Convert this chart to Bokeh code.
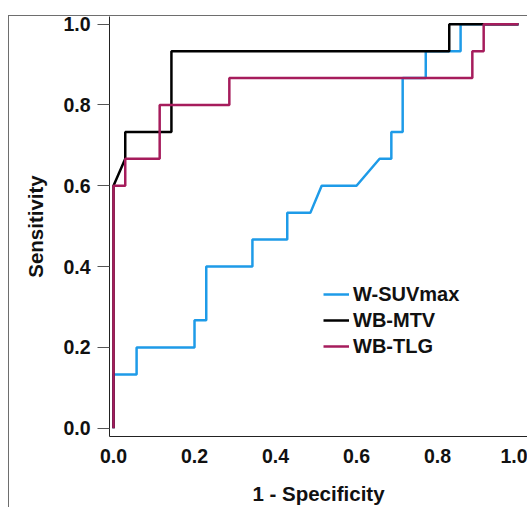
from bokeh.plotting import figure
from bokeh.models import Range1d, Legend, LegendItem, FixedTicker, NumeralTickFormatter
from bokeh.embed import file_html
from bokeh.resources import INLINE

# ROC curve data (1 - specificity, sensitivity)
suv_fpr = [0.0, 0.0, 0.057, 0.057, 0.2, 0.2, 0.229, 0.229, 0.343, 0.343, 0.429, 0.429,
           0.486, 0.514, 0.6, 0.657, 0.686, 0.686, 0.714, 0.714, 0.771, 0.771, 0.857, 0.857, 1.0]
suv_tpr = [0.0, 0.133, 0.133, 0.2, 0.2, 0.267, 0.267, 0.4, 0.4, 0.467, 0.467, 0.533,
           0.533, 0.6, 0.6, 0.667, 0.667, 0.733, 0.733, 0.867, 0.867, 0.933, 0.933, 1.0, 1.0]

mtv_fpr = [0.0, 0.0, 0.029, 0.029, 0.143, 0.143, 0.829, 0.829, 1.0]
mtv_tpr = [0.0, 0.6, 0.667, 0.733, 0.733, 0.933, 0.933, 1.0, 1.0]

tlg_fpr = [0.0, 0.0, 0.029, 0.029, 0.114, 0.114, 0.286, 0.286, 0.886, 0.886, 0.914, 0.914, 1.0]
tlg_tpr = [0.0, 0.6, 0.6, 0.667, 0.667, 0.8, 0.8, 0.867, 0.867, 0.933, 0.933, 1.0, 1.0]

series_names = ["W-SUVmax", "WB-MTV", "WB-TLG"]
series_colors = ["#1e9be8", "#000000", "#a61c5c"]
ticks = [0.0, 0.2, 0.4, 0.6, 0.8, 1.0]

FONT = "Liberation Sans"

p = figure(width=519, height=499,
           x_range=Range1d(-0.0099, 1.0222), y_range=Range1d(-0.0205, 1.019),
           output_backend="svg", toolbar_location=None,
           min_border_left=101, min_border_right=0, min_border_top=8, min_border_bottom=71,
           margin=(8, 0, 0, 8))
# outer chart frame (top and left edges) drawn behind a transparent canvas border
p.styles = {
    "background-color": "white",
    "background-image": "linear-gradient(#6e6e6e, #6e6e6e), linear-gradient(#6e6e6e, #6e6e6e)",
    "background-size": "100% 1px, 1px calc(100% - 7px)",
    "background-position": "0 7px, 0 7px",
    "background-repeat": "no-repeat",
}
p.border_fill_color = None
p.background_fill_color = "white"
p.outline_line_color = None
p.xgrid.visible = False
p.ygrid.visible = False

r1 = p.line(suv_fpr, suv_tpr, line_color=series_colors[0], line_width=2.5)
r2 = p.line(mtv_fpr, mtv_tpr, line_color=series_colors[1], line_width=2.5)
r3 = p.line(tlg_fpr, tlg_tpr, line_color=series_colors[2], line_width=2.5)

for ax in (p.xaxis[0], p.yaxis[0]):
    ax.ticker = FixedTicker(ticks=ticks)
    ax.formatter = NumeralTickFormatter(format="0.0")
    ax.major_label_text_font = FONT
    ax.major_label_text_font_style = "bold"
    ax.major_label_text_font_size = "19.5px"
    ax.major_label_text_color = "#111111"
    ax.axis_label_text_font = FONT
    ax.axis_label_text_font_style = "bold"
    ax.axis_label_text_font_size = "20.5px"
    ax.axis_label_text_color = "#111111"
    ax.axis_line_color = "#222222"
    ax.minor_tick_line_color = None

p.yaxis[0].axis_label = "Sensitivity"
p.yaxis[0].major_tick_out = 12
p.yaxis[0].major_tick_in = 0
p.yaxis[0].major_tick_line_color = "#555555"
p.yaxis[0].major_label_standoff = 7
p.yaxis[0].axis_label_standoff = 13

p.xaxis[0].axis_label = "1 - Specificity"
p.xaxis[0].major_tick_line_color = None
p.xaxis[0].major_tick_out = 0
p.xaxis[0].major_tick_in = 0
p.xaxis[0].major_label_standoff = 12
p.xaxis[0].axis_label_standoff = 16

legend = Legend(items=[LegendItem(label=series_names[0], renderers=[r1]),
                       LegendItem(label=series_names[1], renderers=[r2]),
                       LegendItem(label=series_names[2], renderers=[r3])],
                location=(214, 77))
legend.glyph_width = 26
legend.glyph_height = 26
legend.label_height = 26
legend.spacing = 0
legend.padding = 0
legend.margin = 0
legend.label_standoff = 4
legend.border_line_color = None
legend.background_fill_alpha = 0
legend.label_text_font = FONT
legend.label_text_font_style = "bold"
legend.label_text_font_size = "20px"
legend.label_text_color = "#111111"
p.add_layout(legend)

open("out.html", "w").write(file_html(p, INLINE))
